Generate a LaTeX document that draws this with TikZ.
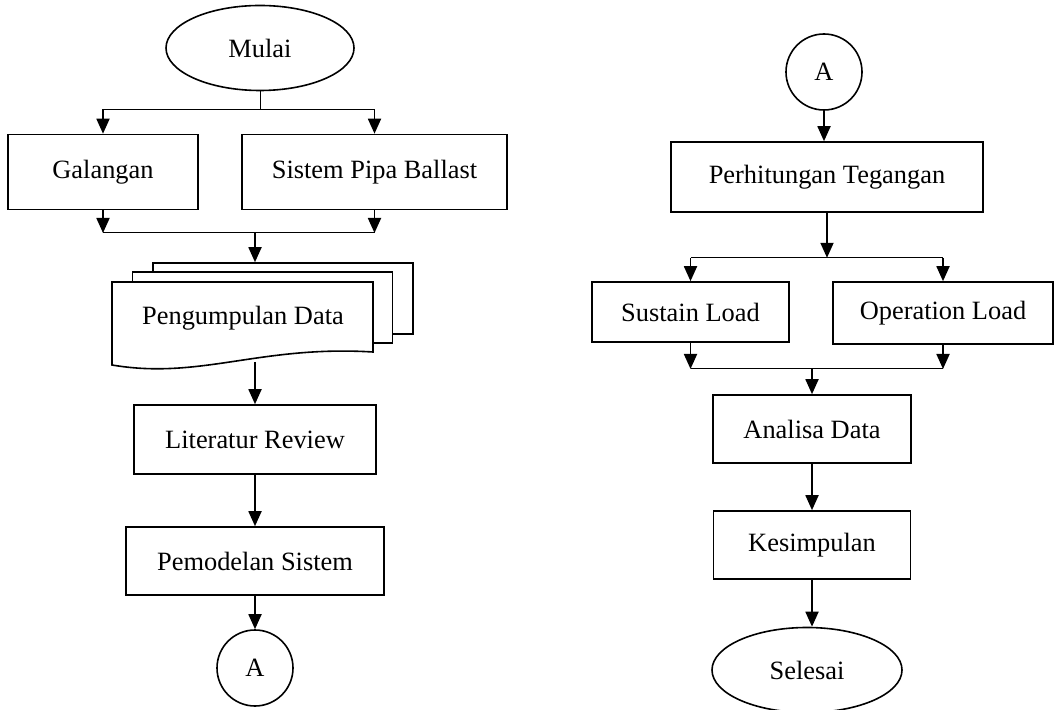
\documentclass[tikz,border=0pt]{standalone}
\usepackage{fontspec}
\setmainfont{Liberation Serif}
\usepackage{tikz}
\usetikzlibrary{shapes,positioning,calc}
\usetikzlibrary{shapes.geometric}
\usetikzlibrary{arrows.meta}
\tikzstyle{proses} = [rectangle, minimum height=34pt, text centered, draw=black, line width=0.8pt, fill=white]
\tikzstyle{terminal} = [ellipse, minimum width=94pt, minimum height=42.5pt, text centered, draw=black, line width=0.8pt]
\tikzstyle{konektor} = [circle, minimum size=38pt, draw=black, line width=0.8pt]
\tikzstyle{halaman} = [rectangle, minimum width=130pt, minimum height=35.5pt, draw=black, line width=0.8pt, fill=white]
\tikzstyle{panah} = [line width=0.9pt,-{Triangle[width=6.5pt,length=7.5pt]}]
\tikzstyle{garis} = [line width=0.5pt]

\begin{document}
\begin{tikzpicture}[x=0.5pt,y=-0.5pt,font=\fontsize{13.2}{16}\selectfont]
							\useasboundingbox (0,0) rectangle (1054,710);
							\node (mulai) at (260,48) [terminal] {Mulai};
							\node (galangan) at (103,172) [proses, minimum width=95pt, minimum height=37.5pt] {Galangan};
							\node (sistem) at (374.5,172) [proses, minimum width=132.5pt, minimum height=37.5pt] {Sistem Pipa Ballast};
							\coordinate (cabang1) at ($(mulai.south)+(0,18)$);
							\coordinate (gabung1) at (255,233);
							\node (hal3) at (283,298.5) [halaman] {};
							\node (hal2) at (262.5,307.5) [halaman] {};
							\draw[line width=0.8pt, fill=white] (112,282) -- (373,282) -- (373,352) .. controls (260,345) and (200,380) .. (112,365) -- cycle;
							\node (data) at (243,318) {Pengumpulan Data};
							\coordinate (dataout) at (255,362);
							\node (literatur) at (255,439.5) [proses, minimum width=121pt, minimum height=34.5pt] {Literatur Review};
							\node (pemodelan) at (255,561) [proses, minimum width=129pt, minimum height=34pt] {Pemodelan Sistem};
							\node (a1) at (255,668) [konektor] {A};
							\draw[garis] (mulai.south) -- (cabang1);
							\draw[garis] (galangan.north |- cabang1) -- (sistem.north |- cabang1);
							\draw[panah] (galangan.north |- cabang1) -- (galangan.north);
							\draw[panah] (sistem.north |- cabang1) -- (sistem.north);
							\draw[panah] (galangan.south) -- (galangan.south |- gabung1);
							\draw[panah] (sistem.south) -- (sistem.south |- gabung1);
							\draw[garis] (galangan.south |- gabung1) -- (sistem.south |- gabung1);
							\draw[panah] (gabung1) -- (gabung1 |- hal3.north);
							\draw[panah] (dataout) -- (literatur.north);
							\draw[panah] (literatur.south) -- (pemodelan.north);
							\draw[panah] (pemodelan.south) -- (a1.north);
							\node (a2) at (824,72) [konektor] {A};
							\node (perhitungan) at (827,177) [proses, minimum width=156pt, minimum height=35pt] {Perhitungan Tegangan};
							\coordinate (cabang2) at ($(perhitungan.south)+(0,45)$);
							\node (sustain) at (690.5,312) [proses, minimum width=98.5pt, minimum height=30pt] {Sustain Load};
							\node (operation) at (943,313) [proses, minimum width=110pt, minimum height=31pt] {Operation Load};
							\coordinate (gabung2) at (812,369);
							\node (analisa) at (812,429) [proses, minimum width=99pt, minimum height=34pt] {Analisa Data};
							\node (kesimpulan) at (812,545) [proses, minimum width=98.5pt, minimum height=34pt] {Kesimpulan};
							\node (selesai) at (807,670) [terminal, minimum width=95pt] {Selesai};
							\draw[panah] (a2.south) -- (a2.south |- perhitungan.north);
							\draw[panah] (perhitungan.south) -- (cabang2);
							\draw[garis] (sustain.north |- cabang2) -- (operation.north |- cabang2);
							\draw[panah] (sustain.north |- cabang2) -- (sustain.north);
							\draw[panah] (operation.north |- cabang2) -- (operation.north);
							\draw[panah] (sustain.south) -- (sustain.south |- gabung2);
							\draw[panah] (operation.south) -- (operation.south |- gabung2);
							\draw[garis] (sustain.south |- gabung2) -- (operation.south |- gabung2);
							\draw[panah] (gabung2) -- (analisa.north);
							\draw[panah] (analisa.south) -- (kesimpulan.north);
							\draw[panah] (kesimpulan.south) -- (kesimpulan.south |- selesai.north);
						\end{tikzpicture}
\end{document}
